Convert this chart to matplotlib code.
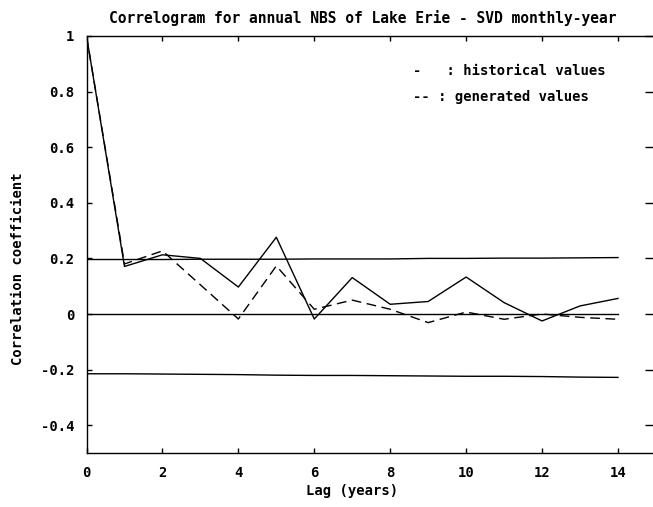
import numpy as np
import matplotlib
matplotlib.use("Agg")
import matplotlib.pyplot as plt

# lags (years)
lags = [0, 1, 2, 3, 4, 5, 6, 7, 8, 9, 10, 11, 12, 13, 14]

# correlograms
historical = [1.0, 0.171, 0.213, 0.20, 0.097, 0.276, -0.018, 0.131, 0.035, 0.045,
              0.133, 0.041, -0.025, 0.029, 0.056]
generated = [1.0, 0.18, 0.227, 0.105, -0.018, 0.173, 0.017, 0.05, 0.017, -0.031,
             0.007, -0.019, 0.0, -0.012, -0.019]

# confidence limits
upper_lim = [0.196, 0.196, 0.196, 0.197, 0.197, 0.197, 0.198, 0.198, 0.198, 0.200,
             0.200, 0.201, 0.201, 0.202, 0.203]
lower_lim = [-0.215, -0.215, -0.216, -0.217, -0.218, -0.220, -0.221, -0.221, -0.222,
             -0.223, -0.224, -0.224, -0.225, -0.227, -0.228]
zero_line = [0.0] * len(lags)

yticks = [1, 0.8, 0.6, 0.4, 0.2, 0, -0.2, -0.4]
ytick_labels = ["1", "0.8", "0.6", "0.4", "0.2", "0", "-0.2", "-0.4"]
xticks = [0, 2, 4, 6, 8, 10, 12, 14]

font = "DejaVu Sans Mono"
plt.rcParams["font.family"] = font
plt.rcParams["font.weight"] = "bold"

fig = plt.figure(figsize=(6.53, 5.07), dpi=100)
ax = fig.add_axes([0.1325, 0.1065, 0.872, 0.8225])

ax.plot(lags, historical, color="black", lw=1.0)
ax.plot(lags, generated, color="black", lw=1.0, linestyle=(0, (7, 4)))
ax.plot(lags, upper_lim, color="black", lw=1.0)
ax.plot(lags, lower_lim, color="black", lw=1.0)
ax.plot(lags, zero_line, color="black", lw=1.0)

ax.set_xlim(0, 15)
ax.set_ylim(-0.5, 1.0)
ax.set_xticks(xticks)
ax.set_xticklabels([str(t) for t in xticks], fontsize=10, fontweight="bold")
ax.set_yticks(yticks)
ax.set_yticklabels(ytick_labels, fontsize=10, fontweight="bold")
ax.tick_params(direction="in", top=True, right=True, length=3.5, width=1, pad=9)
# longer ticks on the right side (spine itself is off the picture)
for t in ax.yaxis.get_major_ticks():
    t.tick2line.set_markersize(8)
ax.spines["right"].set_visible(False)
for s in ax.spines.values():
    s.set_linewidth(1.0)

ax.text(8.6, 0.875, "-   : historical values", fontsize=10, va="center", ha="left")
ax.text(8.6, 0.78, "-- : generated values", fontsize=10, va="center", ha="left")

fig.text(0.555, 0.965, "Correlogram for annual NBS of Lake Erie - SVD monthly-year",
         fontsize=10.5, ha="center", va="center")
fig.text(0.028, 0.47, "Correlation coefficient", rotation=90, fontsize=10,
         ha="center", va="center")
fig.text(0.539, 0.032, "Lag (years)", fontsize=10, ha="center", va="center")

fig.savefig("out.png", dpi=100)
